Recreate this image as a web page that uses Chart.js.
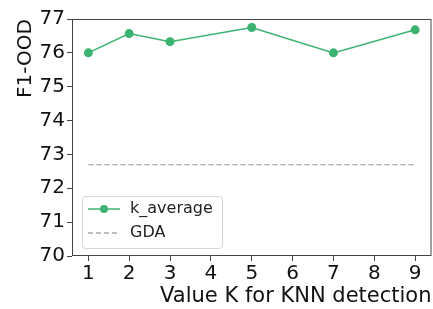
<!DOCTYPE html>
<html>
<head>
<meta charset="utf-8">
<script src="https://cdn.jsdelivr.net/npm/chart.js@4/dist/chart.umd.min.js"></script>
<style>
  html, body { margin: 0; padding: 0; background: #fff; overflow: hidden; }
  /* a little wider than the window: chart.js keeps ~5px on the right for the last tick label */
  #wrap { width: 436px; height: 309px; }
</style>
</head>
<body>
<div id="wrap"><canvas id="knn"></canvas></div>
<script>
// data
var kValues = [1, 2, 3, 5, 7, 9];
var f1Values = [76.0, 76.57, 76.33, 76.75, 76.0, 76.68];
var gdaValue = 72.7;
var xTicks = [1, 2, 3, 4, 5, 6, 7, 8, 9];
var yTicks = [70, 71, 72, 73, 74, 75, 76, 77];
var seriesNames = ["k_average", "GDA"];

var green = "#3cb371";
var gray = "#aaaaaa";
var font = "DejaVu Sans";

var kPoints = kValues.map(function (k, i) { return { x: k, y: f1Values[i] }; });
var gdaPoints = [
  { x: kValues[0], y: gdaValue },
  { x: kValues[kValues.length - 1], y: gdaValue }
];

// box around plot + legend inside the plot, like matplotlib
var boxAndLegend = {
  id: "boxAndLegend",
  afterDraw: function (chart) {
    var ctx = chart.ctx;
    var a = chart.chartArea;
    ctx.save();
    ctx.strokeStyle = "#444";
    ctx.lineWidth = 1;
    ctx.strokeRect(a.left + 0.5, a.top + 0.5, a.right - a.left - 1, a.bottom - a.top - 1);

    var lx = a.left + 10, ly = a.bottom - 60, lw = 140, lh = 52;
    ctx.fillStyle = "rgba(255,255,255,0.8)";
    ctx.strokeStyle = "#d6d6d6";
    ctx.beginPath();
    if (ctx.roundRect) ctx.roundRect(lx + 0.5, ly + 0.5, lw, lh, 3); else ctx.rect(lx + 0.5, ly + 0.5, lw, lh);
    ctx.fill();
    ctx.stroke();

    var r1 = ly + 13, r2 = ly + 37;
    ctx.strokeStyle = green;
    ctx.lineWidth = 1.5;
    ctx.beginPath(); ctx.moveTo(lx + 6, r1); ctx.lineTo(lx + 38, r1); ctx.stroke();
    ctx.fillStyle = green;
    ctx.beginPath(); ctx.arc(lx + 22, r1, 4, 0, Math.PI * 2); ctx.fill();

    ctx.strokeStyle = gray;
    ctx.setLineDash([5, 3]);
    ctx.beginPath(); ctx.moveTo(lx + 6, r2); ctx.lineTo(lx + 38, r2); ctx.stroke();
    ctx.setLineDash([]);

    ctx.fillStyle = "#222";
    ctx.font = "16px '" + font + "'";
    ctx.textBaseline = "middle";
    ctx.fillText(seriesNames[0], lx + 48, r1);
    ctx.fillText(seriesNames[1], lx + 48, r2);
    ctx.restore();
  }
};

var ctx = document.getElementById("knn");
var myChart = new Chart(ctx, {
  type: "line",
  data: {
    datasets: [
      {
        label: seriesNames[0],
        data: kPoints,
        borderColor: green,
        backgroundColor: green,
        borderWidth: 1.5,
        pointRadius: 4.5,
        pointHoverRadius: 4.5,
        pointBorderWidth: 0,
        tension: 0
      },
      {
        label: seriesNames[1],
        data: gdaPoints,
        borderColor: gray,
        borderWidth: 1.3,
        borderDash: [5, 3],
        pointRadius: 0,
        tension: 0
      }
    ]
  },
  options: {
    responsive: true,
    maintainAspectRatio: false,
    animation: false,
    layout: { padding: { top: 19, right: 0, left: 0, bottom: 0 } },
    plugins: {
      legend: { display: false },
      tooltip: { enabled: false }
    },
    scales: {
      x: {
        type: "linear",
        min: 0.6,
        max: 9.4,
        afterBuildTicks: function (scale) {
          scale.ticks = xTicks.map(function (v) { return { value: v }; });
        },
        afterFit: function (scale) { scale.height = 53; },
        grid: { drawOnChartArea: false, drawTicks: true, tickLength: 5, color: "#444", tickColor: "#444" },
        border: { display: false },
        ticks: { color: "#111", font: { family: font, size: 20 }, padding: 1, maxRotation: 0, autoSkip: false },
        title: {
          display: true,
          text: "Value K for KNN detection",
          align: "end",
          color: "#111",
          font: { family: font, size: 21 },
          padding: { top: 0, bottom: 0 }
        }
      },
      y: {
        min: 70,
        max: 77,
        afterBuildTicks: function (scale) {
          scale.ticks = yTicks.map(function (v) { return { value: v }; });
        },
        afterFit: function (scale) { scale.width = 72; },
        grid: { drawOnChartArea: false, drawTicks: true, tickLength: 5, color: "#444", tickColor: "#444" },
        border: { display: false },
        ticks: { color: "#111", font: { family: font, size: 20 }, padding: 2 },
        title: {
          display: true,
          text: "F1-OOD",
          align: "end",
          color: "#111",
          font: { family: font, size: 20 },
          padding: { top: 14, bottom: 0 }
        }
      }
    }
  },
  plugins: [boxAndLegend]
});
</script>
</body>
</html>
